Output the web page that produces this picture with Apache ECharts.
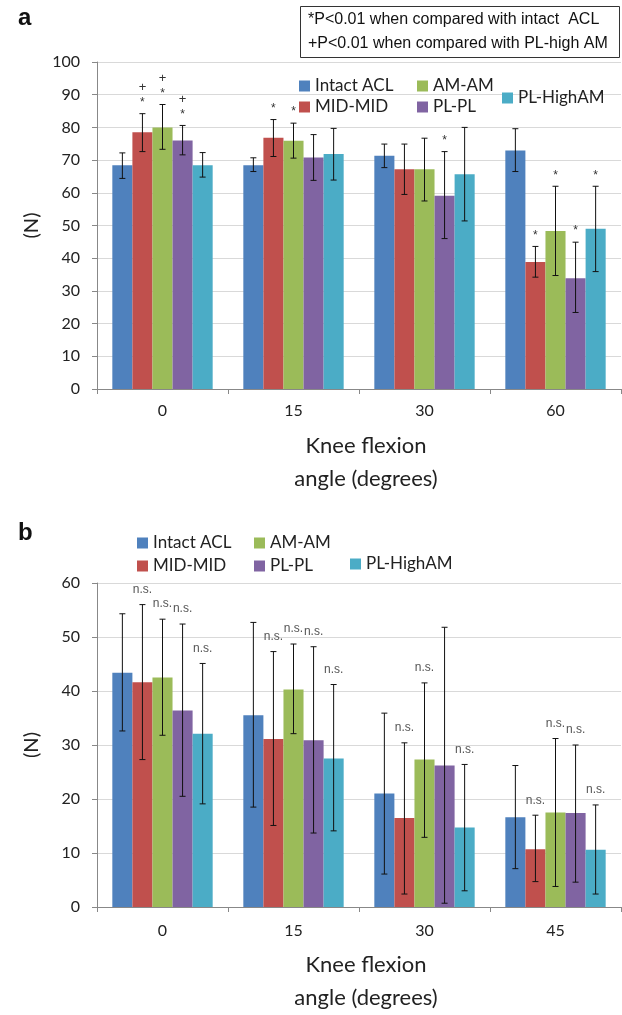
<!DOCTYPE html>
<html>
<head>
<meta charset="utf-8">
<script src="https://cdn.jsdelivr.net/npm/echarts@6/dist/echarts.min.js"></script>
<style>
  html, body { margin: 0; padding: 0; background: #fff; }
  #chart { width: 622px; height: 1015px; }
</style>
</head>
<body>
<div id="chart"></div>
<script>
  // graft groups, same order as the bars inside each angle
  var groups = ['Intact ACL', 'MID-MID', 'AM-AM', 'PL-PL', 'PL-HighAM'];
  var colors = ['#4F81BD', '#C0504D', '#9BBB59', '#8064A2', '#4BACC6'];

  // panel a : one row per group, one value per angle
  var anglesA = ['0', '15', '30', '60'];
  var meanA = [
    [68.4, 68.4, 71.3, 72.9],
    [78.5, 76.8, 67.2, 38.8],
    [80.0, 75.9, 67.2, 48.3],
    [76.0, 70.8, 59.1, 33.9],
    [68.4, 71.9, 65.7, 49.0]
  ];
  var hiA = [
    [72.2, 70.7, 74.9, 79.6],
    [84.2, 82.4, 74.9, 43.6],
    [87.0, 81.3, 76.7, 62.0],
    [80.6, 77.8, 72.6, 44.9],
    [72.3, 79.7, 80.0, 62.0]
  ];
  var loA = [
    [64.4, 66.5, 67.7, 66.5],
    [72.6, 71.1, 59.5, 34.2],
    [73.3, 70.6, 57.5, 34.7],
    [71.6, 63.8, 46.0, 23.4],
    [64.8, 63.9, 51.4, 35.9]
  ];
  // '*' = vs intact, '*+' = vs intact and vs PL-high AM
  var marksA = [
    ['', '', '', ''],
    ['*+', '*', '', '*'],
    ['*+', '*', '', '*'],
    ['*+', '', '*', '*'],
    ['', '', '', '*']
  ];

  // panel b
  var anglesB = ['0', '15', '30', '45'];
  var meanB = [
    [43.4, 35.5, 21.0, 16.6],
    [41.6, 31.1, 16.5, 10.7],
    [42.5, 40.3, 27.3, 17.5],
    [36.4, 30.9, 26.2, 17.4],
    [32.1, 27.5, 14.7, 10.6]
  ];
  var hiB = [
    [54.3, 52.7, 35.9, 26.2],
    [56.0, 47.3, 30.4, 17.0],
    [53.3, 48.7, 41.5, 31.2],
    [52.4, 48.2, 51.8, 30.0],
    [45.1, 41.2, 26.4, 18.9]
  ];
  var loB = [
    [32.6, 18.5, 6.1, 7.1],
    [27.3, 15.1, 2.4, 4.7],
    [31.8, 32.1, 12.9, 3.8],
    [20.5, 13.7, 0.7, 4.6],
    [19.1, 14.1, 3.0, 2.4]
  ];
  var marksB = [
    ['', '', '', ''],
    ['ns', 'ns', 'ns', 'ns'],
    ['ns', 'ns', 'ns', 'ns'],
    ['ns', 'ns', '', 'ns'],
    ['ns', 'ns', 'ns', 'ns']
  ];

  var yMaxA = 100, yMaxB = 60, yStep = 10;

  var catGap = 0.234;
  var textFont = 'Lato';
  var ink = '#222';

  function errRenderer(marks) {
    return function (params, api) {
      var c = api.value(0), k = api.value(1);
      var band = api.size([1, 0])[0];
      var groupW = band * (1 - catGap);
      var barW = groupW / groups.length;
      var top = api.coord([c, api.value(2)]);
      var bot = api.coord([c, api.value(3)]);
      var x = top[0] - groupW / 2 + barW * (k + 0.5);
      var y1 = top[1], y2 = bot[1];
      var ls = { stroke: '#111', lineWidth: 1 };
      var kids = [
        { type: 'line', shape: { x1: x, y1: y1, x2: x, y2: y2 }, style: ls },
        { type: 'line', shape: { x1: x - 3, y1: y1, x2: x + 3, y2: y1 }, style: ls },
        { type: 'line', shape: { x1: x - 3, y1: y2, x2: x + 3, y2: y2 }, style: ls }
      ];
      var m = marks[k][c];
      if (m === 'ns') {
        kids.push({ type: 'text', style: { text: 'n.s.', x: x, y: y1 - 15, align: 'center', verticalAlign: 'middle',
          font: '12px "Liberation Sans"', fill: '#555' } });
      }
      if (m.indexOf('*') >= 0) {
        kids.push({ type: 'text', style: { text: '*', x: x, y: y1 - 5, align: 'center', verticalAlign: 'bottom',
          font: '12px "Liberation Sans"', fill: '#333' } });
      }
      if (m.indexOf('+') >= 0) {
        kids.push({ type: 'text', style: { text: '+', x: x, y: y1 - 26, align: 'center', verticalAlign: 'middle',
          font: '13px "Liberation Sans"', fill: '#333' } });
      }
      return { type: 'group', children: kids };
    };
  }

  function errSeries(idx, hi, lo, marks) {
    var data = [];
    for (var k = 0; k < groups.length; k++) {
      for (var c = 0; c < hi[k].length; c++) {
        data.push([c, k, hi[k][c], lo[k][c]]);
      }
    }
    return {
      type: 'custom', xAxisIndex: idx, yAxisIndex: idx, silent: true, z: 5, clip: false,
      renderItem: errRenderer(marks), encode: { x: 0, y: [2, 3] }, data: data
    };
  }

  function barSeries(idx, means) {
    return means.map(function (row, k) {
      return {
        type: 'bar', name: groups[k], xAxisIndex: idx, yAxisIndex: idx,
        data: row, barGap: '0%', barCategoryGap: (catGap * 100) + '%',
        itemStyle: { color: colors[k] }, animation: false
      };
    });
  }

  function legendAt(name, left, top) {
    return {
      data: [name], left: left, top: top - 10, icon: 'rect', itemWidth: 11, itemHeight: 11,
      padding: 0, itemGap: 0, selectedMode: false,
      textStyle: { fontFamily: textFont, fontSize: 17, color: ink, lineHeight: 20 }
    };
  }

  function xAxisFor(idx, data, labelMargin, nameGap) {
    return {
      type: 'category', gridIndex: idx, data: data,
      axisLine: { lineStyle: { color: '#888' } },
      axisTick: { show: true, length: 5, lineStyle: { color: '#888' } },
      axisLabel: { fontFamily: textFont, fontSize: 16, color: ink, margin: labelMargin },
      name: 'Knee flexion\nangle (degrees)', nameLocation: 'middle', nameGap: nameGap,
      nameTextStyle: { fontFamily: textFont, fontSize: 22, color: ink, lineHeight: 33, padding: [0, 0, 0, 14] }
    };
  }

  function yAxisFor(idx, max) {
    return {
      type: 'value', gridIndex: idx, min: 0, max: max, interval: yStep,
      axisLine: { show: true, lineStyle: { color: '#888' } },
      axisTick: { show: true, length: 5, lineStyle: { color: '#888' } },
      splitLine: { lineStyle: { color: '#d9d9d9' } },
      axisLabel: { fontFamily: textFont, fontSize: 16, color: ink, margin: 17 },
      name: '(N)', nameLocation: 'middle', nameGap: 55, nameRotate: 90,
      nameTextStyle: { fontFamily: textFont, fontSize: 20, color: ink }
    };
  }

  var chart = echarts.init(document.getElementById('chart'));

  var option = {
    animation: false,
    backgroundColor: '#fff',
    grid: [
      { left: 97, top: 62, width: 524, height: 327 },
      { left: 97, top: 583, width: 524, height: 329 }
    ],
    xAxis: [xAxisFor(0, anglesA, 14, 40), xAxisFor(1, anglesB, 16, 41)],
    yAxis: [yAxisFor(0, yMaxA), yAxisFor(1, yMaxB)],
    legend: [
      legendAt('Intact ACL', 299, 86), legendAt('AM-AM', 417, 86),
      legendAt('MID-MID', 299, 107), legendAt('PL-PL', 417, 107),
      legendAt('PL-HighAM', 502, 98),
      legendAt('Intact ACL', 137, 543), legendAt('AM-AM', 254, 543),
      legendAt('MID-MID', 137, 566), legendAt('PL-PL', 254, 566),
      legendAt('PL-HighAM', 350, 564)
    ],
    graphic: [
      { type: 'text', left: 18, top: 6, style: { text: 'a', font: 'bold 24px "Liberation Sans"', fill: '#111' } },
      { type: 'text', left: 18, top: 521, style: { text: 'b', font: 'bold 24px "Liberation Sans"', fill: '#111' } },
      { type: 'rect', shape: { x: 300.5, y: 6.5, width: 319, height: 51 }, style: { fill: '#fff', stroke: '#333', lineWidth: 1 } },
      { type: 'text', x: 308, y: 20, style: { text: '*P<0.01 when compared with intact  ACL', font: '16px "Liberation Sans"',
        fill: '#111', verticalAlign: 'middle' } },
      { type: 'text', x: 308, y: 44, style: { text: '+P<0.01 when compared with PL-high AM', font: '16px "Liberation Sans"',
        fill: '#111', verticalAlign: 'middle' } }
    ],
    series: []
      .concat(barSeries(0, meanA))
      .concat(barSeries(1, meanB))
      .concat([errSeries(0, hiA, loA, marksA), errSeries(1, hiB, loB, marksB)])
  };

  chart.setOption(option);
</script>
</body>
</html>
